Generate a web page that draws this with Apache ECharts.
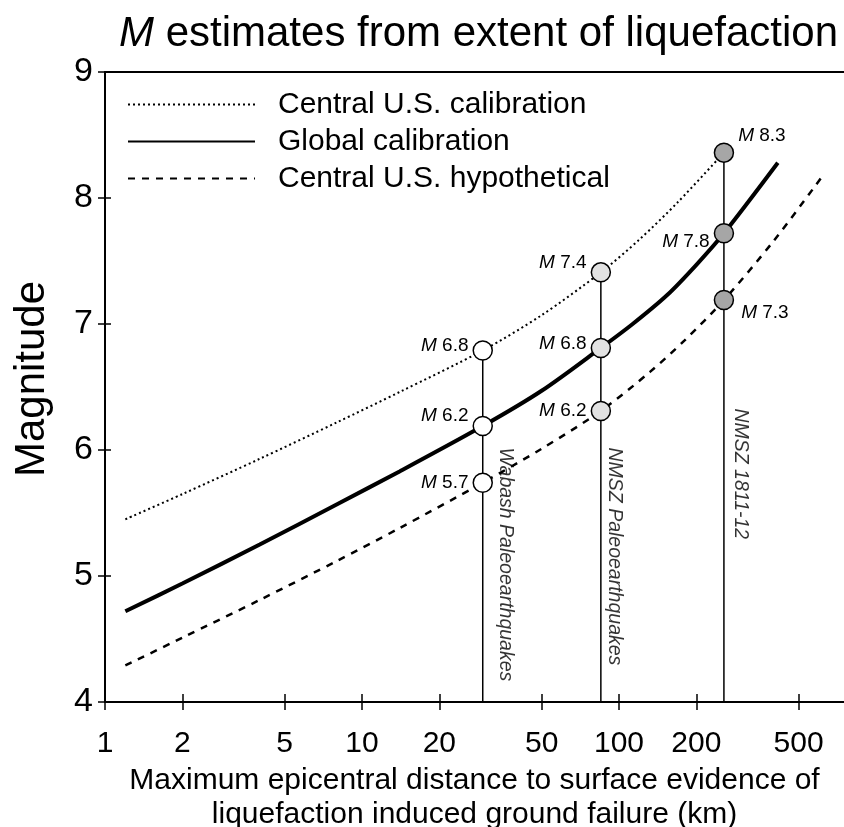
<!DOCTYPE html>
<html><head><meta charset="utf-8">
<script src="https://cdn.jsdelivr.net/npm/echarts@6/dist/echarts.min.js"></script>
<style>html,body{margin:0;padding:0;background:#fff}#c{width:844px;height:827px}</style>
</head><body><div id="c"></div>
<script>
// ---- data (distance in km, magnitude M) ----
const xTicks = [1, 2, 5, 10, 20, 50, 100, 200, 500];
const yTicks = [4, 5, 6, 7, 8, 9];
const seriesNames = ['Central U.S. calibration', 'Global calibration', 'Central U.S. hypothetical'];
const calDist = [1.2, 2, 4, 8, 14, 29.5, 50, 85, 120, 170, 256];
const calMag  = [5.45, 5.65, 5.93, 6.22, 6.46, 6.79, 7.07, 7.41, 7.67, 7.97, 8.36];
const globDist = [1.2, 2, 4, 8, 14, 29.5, 50, 85, 113, 154, 200, 256, 415];
const globMag  = [4.72, 4.94, 5.25, 5.57, 5.83, 6.19, 6.47, 6.81, 7.0, 7.23, 7.47, 7.72, 8.28];
const hypDist = [1.2, 2, 4, 8, 14, 29.5, 50, 85, 132, 180, 256, 400, 617];
const hypMag  = [4.29, 4.51, 4.81, 5.12, 5.38, 5.74, 6.01, 6.31, 6.62, 6.87, 7.19, 7.66, 8.17];
const eventNames = ['Wabash Paleoearthquakes', 'NMSZ Paleoearthquakes', 'NMSZ 1811-12'];
const eventDist = [29.5, 85, 256];
const eventMags = [[6.79, 6.19, 5.74], [7.41, 6.81, 6.31], [8.36, 7.72, 7.19]];
const eventLabels = [['6.8', '6.2', '5.7'], ['7.4', '6.8', '6.2'], ['8.3', '7.8', '7.3']];
// annotation anchors for the rotated event names (km, M)
const eventTextDist = [36, 95.6, 295.6];
const eventTextMag = [6.02, 6.02, 6.33];

// ---- styling ----
const F = "'Liberation Sans', Arial, sans-serif";
const X_MIN = 0, X_MAX = 2.8755;
const L = v => Math.log10(v);
const xTickVals = xTicks.map(L);
const fills = ['#ffffff', '#e2e2e2', '#a6a6a6'];
const labelCfg = [
  [{position: 'left', offset: [0, -5]}, {position: 'left', offset: [0, -10]}, {position: 'left', offset: [0, 0]}],
  [{position: 'left', offset: [0, -10]}, {position: 'left', offset: [0, -4]}, {position: 'left', offset: [0, 0]}],
  [{position: 'right', offset: [0, -17]}, {position: 'left', offset: [0, 8]}, {position: 'right', offset: [3, 13]}]
];
const curve = (d, m) => d.map((v, i) => [L(v), m[i]]);

const series = [
  {name: seriesNames[0], type: 'line', data: curve(calDist, calMag), smooth: 0.3, symbol: 'none', z: 2,
   itemStyle: {color: '#000'}, lineStyle: {color: '#000', width: 2, type: [2, 3]}},
  {name: seriesNames[1], type: 'line', data: curve(globDist, globMag), smooth: 0.3, symbol: 'none', z: 2,
   itemStyle: {color: '#000'}, lineStyle: {color: '#000', width: 4}},
  {name: seriesNames[2], type: 'line', data: curve(hypDist, hypMag), smooth: 0.3, symbol: 'none', z: 2,
   itemStyle: {color: '#000'}, lineStyle: {color: '#000', width: 2.5, type: [7, 7]}}
];
eventDist.forEach((d, i) => {
  series.push({type: 'line', data: [[L(d), eventMags[i][0]], [L(d), yTicks[0]]], symbol: 'none', silent: true, z: 3,
    lineStyle: {color: '#000', width: 1.5}});
  series.push({type: 'scatter', z: 5, symbolSize: 19,
    itemStyle: {color: fills[i], borderColor: '#000', borderWidth: 1.5, opacity: 1},
    label: {show: true, distance: 4, color: '#000', fontFamily: F, fontSize: 19,
      rich: {i: {fontStyle: 'italic', fontFamily: F, fontSize: 19, color: '#000'}}},
    data: eventMags[i].map((m, j) => ({value: [L(d), m],
      label: Object.assign({formatter: '{i|M} ' + eventLabels[i][j]}, labelCfg[i][j])}))
  });
  series.push({type: 'scatter', z: 5, symbolSize: 0, silent: true,
    data: [[L(eventTextDist[i]), eventTextMag[i]]],
    label: {show: true, position: 'inside', rotate: -90, align: 'left', verticalAlign: 'middle',
      formatter: eventNames[i], fontFamily: F, fontSize: 19.5, fontStyle: 'italic', color: '#000'}
  });
});

const axisLineStyle = {color: '#000', width: 2};
const gridBox = {left: 105, right: 0, top: 72, bottom: 125, containLabel: false, outerBoundsMode: 'none'};
const option = {
  animation: false,
  backgroundColor: '#fff',
  title: {text: '{i|M} estimates from extent of liquefaction', left: 119, top: 13, padding: 0,
    textStyle: {fontFamily: F, fontSize: 42, fontWeight: 'normal', color: '#000',
      rich: {i: {fontStyle: 'italic', fontFamily: F, fontSize: 42, color: '#000'}}}},
  legend: {data: seriesNames, orient: 'vertical', left: 127, top: 86, padding: 0, itemGap: 0,
    itemWidth: 127, itemHeight: 14, selectedMode: false,
    itemStyle: {opacity: 0, borderWidth: 0},
    textStyle: {fontFamily: F, fontSize: 30, color: '#000', lineHeight: 37, padding: [0, 0, 0, 18]}},
  grid: [Object.assign({}, gridBox), Object.assign({}, gridBox)],
  xAxis: [
    {gridIndex: 0, type: 'value', position: 'bottom', min: X_MIN, max: X_MAX,
     axisLine: {lineStyle: axisLineStyle},
     axisTick: {customValues: xTickVals, length: 8, lineStyle: {color: '#000', width: 1.5}},
     axisLabel: {customValues: xTickVals, formatter: v => String(Math.round(Math.pow(10, v))),
       fontFamily: F, fontSize: 30, color: '#000', margin: 27},
     splitLine: {show: false},
     name: 'Maximum epicentral distance to surface evidence of\nliquefaction induced ground failure (km)',
     nameLocation: 'middle', nameGap: 61,
     nameTextStyle: {fontFamily: F, fontSize: 30, lineHeight: 34, color: '#000'}},
    {gridIndex: 0, type: 'value', position: 'top', min: X_MIN, max: X_MAX,
     axisLine: {lineStyle: axisLineStyle}, axisTick: {show: false}, axisLabel: {show: false}, splitLine: {show: false}},
    {gridIndex: 1, type: 'value', position: 'bottom', min: X_MIN, max: X_MAX,
     axisLine: {show: false}, axisTick: {customValues: xTickVals, inside: true, length: 8, lineStyle: {color: '#000', width: 1.5}},
     axisLabel: {show: false}, splitLine: {show: false}}
  ],
  yAxis: [
    {gridIndex: 0, type: 'value', min: yTicks[0], max: yTicks[yTicks.length - 1], interval: 1,
     axisLine: {show: true, lineStyle: axisLineStyle},
     axisTick: {show: true, length: 7, lineStyle: {color: '#000', width: 1.5}},
     axisLabel: {fontFamily: F, fontSize: 34, color: '#000', margin: 12},
     splitLine: {show: false},
     name: 'Magnitude', nameLocation: 'middle', nameGap: 52,
     nameTextStyle: {fontFamily: F, fontSize: 42, color: '#000', padding: [0, 0, 0, 16]}},
    {gridIndex: 1, type: 'value', min: yTicks[0], max: yTicks[yTicks.length - 1], interval: 1,
     axisLine: {show: false}, axisTick: {show: true, inside: true, length: 6, lineStyle: {color: '#000', width: 1.5}},
     axisLabel: {show: false}, splitLine: {show: false}}
  ],
  series: series
};
const chart = echarts.init(document.getElementById('c'), null, {renderer: 'canvas'});
chart.setOption(option);
</script>
</body></html>
